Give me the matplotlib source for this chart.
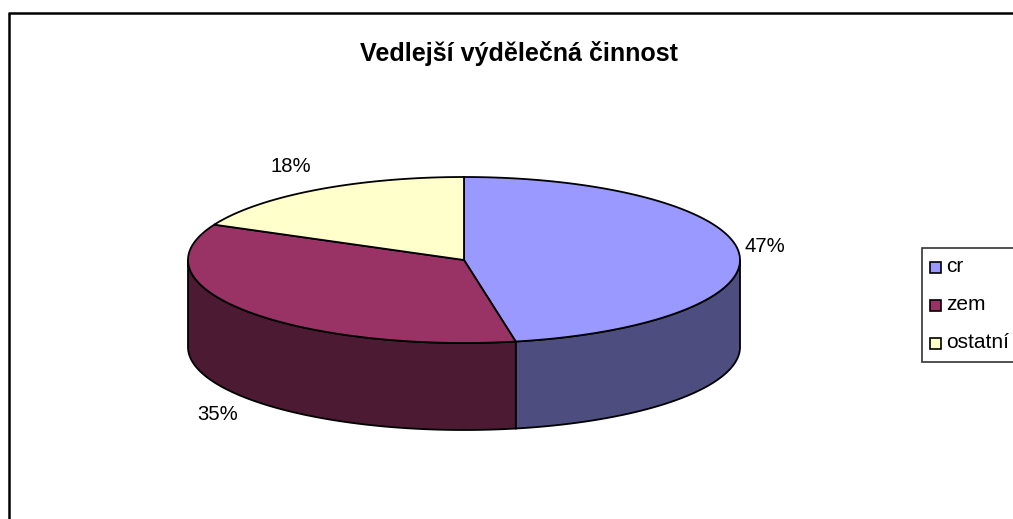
import matplotlib
matplotlib.use("Agg")
import matplotlib.pyplot as plt
from matplotlib.patches import Rectangle
import numpy as np

title = "Vedlejší výdělečná činnost"
labels = ["cr", "zem", "ostatní"]
values = [47, 35, 18]
top_colors = ["#9999FF", "#993366", "#FFFFCC"]
side_colors = ["#4D4D80", "#4D1A33", "#808066"]
pct_pos = [(765, 247), (218, 415), (291, 167)]

# pie geometry in pixels
cx, cy = 464, 260
rx, ry = 276, 83
depth = 87

def rim(a1, a2):
    t = np.radians(np.linspace(a1, a2, 200))
    return cx + rx * np.sin(t), cy - ry * np.cos(t)

plt.rcParams["font.family"] = ["Liberation Sans", "DejaVu Sans"]
fig = plt.figure(figsize=(10.13, 5.19), dpi=100)
ax = fig.add_axes([0, 0, 1, 1])
ax.set_xlim(0, 1013)
ax.set_ylim(519, 0)
ax.axis("off")

# chart frame (runs off the right and bottom of the image)
ax.plot([9, 9], [530, 12.5], color="black", lw=1.8, solid_capstyle="butt")
ax.plot([8, 1020], [12.5, 12.5], color="black", lw=1.8, solid_capstyle="butt")

# slices
angles = np.cumsum([0] + values) / sum(values) * 360
for i in range(len(values)):
    a1, a2 = angles[i], angles[i + 1]
    # visible side wall is only the front half of the rim
    s1, s2 = max(a1, 90), min(a2, 270)
    if s1 < s2:
        x, y = rim(s1, s2)
        ax.fill(np.r_[x, x[::-1]], np.r_[y, y[::-1] + depth],
                facecolor=side_colors[i], edgecolor="black", lw=1.3, zorder=2)
for i in range(len(values)):
    x, y = rim(angles[i], angles[i + 1])
    ax.fill(np.r_[cx, x], np.r_[cy, y], facecolor=top_colors[i],
            edgecolor="black", lw=1.3, zorder=3)

# percent labels
for v, (px, py) in zip(values, pct_pos):
    ax.text(px, py, f"{v}%", fontsize=14.6, ha="center", va="center", color="black")

ax.text(519, 54, title, fontsize=18.1, fontweight="bold", ha="center", va="center", color="black")

# legend box
ax.add_patch(Rectangle((921.5, 247.5), 100, 114, facecolor="white", edgecolor="#333333", lw=1.2, zorder=4))
for i, name in enumerate(labels):
    ly = 267.5 + i * 38
    ax.add_patch(Rectangle((929.5, ly - 5.5), 11, 11, facecolor=top_colors[i], edgecolor="black", lw=1.2, zorder=5))
    ax.text(946, ly - 0.5, name, fontsize=15, ha="left", va="center", color="black", zorder=5)

fig.savefig("out.png", dpi=100)
